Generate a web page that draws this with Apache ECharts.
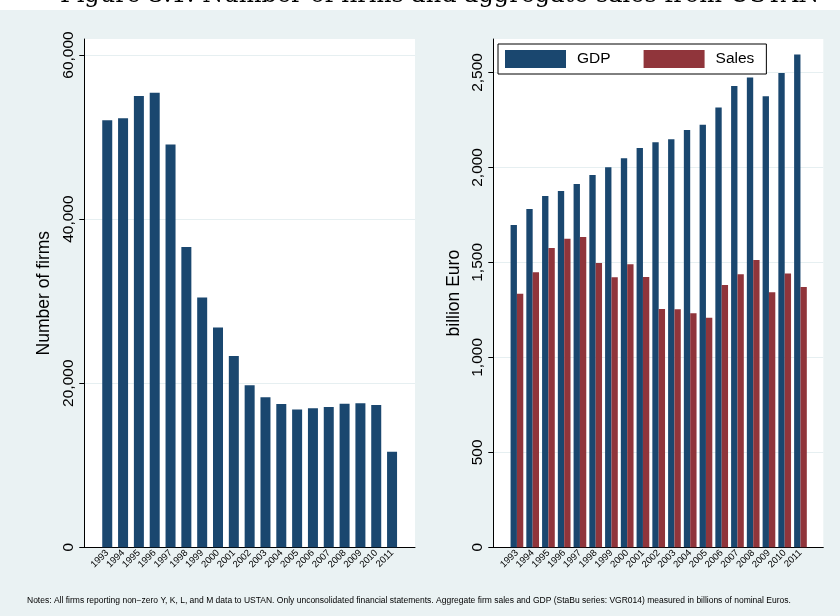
<!DOCTYPE html>
<html><head><meta charset="utf-8">
<script src="https://cdn.jsdelivr.net/npm/echarts@6/dist/echarts.min.js"></script>
<style>
html,body{margin:0;padding:0;background:#fff}
#c{width:840px;height:616px;background:linear-gradient(to bottom,#ffffff 0,#ffffff 10px,#eaf2f3 10px,#eaf2f3 100%);}
</style>
</head><body><div id="c"></div>
<script>
const years = [1993,1994,1995,1996,1997,1998,1999,2000,2001,2002,2003,2004,2005,2006,2007,2008,2009,2010,2011];
const firms = [52050,52300,55000,55400,49100,36600,30450,26800,23300,19750,18300,17450,16800,16950,17100,17500,17550,17350,11650];
const gdp = [1697,1781,1850,1876,1913,1960,2001,2048,2102,2132,2148,2197,2224,2315,2429,2473,2375,2497,2594];
const sales = [1335,1448,1576,1625,1634,1497,1422,1490,1423,1255,1253,1232,1209,1381,1437,1513,1343,1441,1371];
const firmTicks = [0,20000,40000,60000];
const euroTicks = [0,500,1000,1500,2000,2500];
const titleText = 'Figure 3.1: Number of firms and aggregate sales from USTAN';
const notesText = 'Notes: All firms reporting non\u2212zero Y, K, L, and M data to USTAN. Only unconsolidated financial statements. Aggregate firm sales and GDP (StaBu series: VGR014) measured in billions of nominal Euros.';

const FONT = '"Liberation Sans", Arial, Helvetica, sans-serif';
const NAVY = '#1a476f', MAROON = '#90353b', GRIDC = '#e6eff1';
const fmt = v => Number(v).toLocaleString('en-US');
const pair = arr => arr.map((v, i) => [years[i], v]);

function xAxisCfg(idx, min, max) {
  return {
    type: 'value', gridIndex: idx, min: min, max: max,
    axisLine: {show: true, lineStyle: {color: '#000', width: 1}},
    axisTick: {show: false},
    splitLine: {show: false},
    axisLabel: {
      customValues: years, rotate: 45, margin: 4, fontSize: 9.5, color: '#000',
      fontFamily: FONT, formatter: v => String(v)
    }
  };
}
function yAxisCfg(idx, max, interval, ticks, name, gap) {
  return {
    type: 'value', gridIndex: idx, min: 0, max: max, interval: interval,
    name: name, nameLocation: 'middle', nameGap: gap,
    nameTextStyle: {fontSize: 17.5, color: '#000', fontFamily: FONT},
    axisLine: {show: true, lineStyle: {color: '#000', width: 1}},
    axisTick: {show: true, length: 5, lineStyle: {color: '#000'}, customValues: ticks},
    axisLabel: {rotate: 90, margin: 8, fontSize: 15.5, color: '#000', fontFamily: FONT,
      customValues: ticks, formatter: fmt},
    splitLine: {show: true, lineStyle: {color: GRIDC, width: 1}}
  };
}

const chart = echarts.init(document.getElementById('c'), null, {renderer: 'canvas'});
chart.setOption({
  animation: false,
  textStyle: {fontFamily: FONT},
  grid: [
    {left: 84.3, top: 39, width: 330.7, height: 508.3, show: true, backgroundColor: '#fff', borderWidth: 0, containLabel: false},
    {left: 493.3, top: 39, width: 330, height: 508.3, show: true, backgroundColor: '#fff', borderWidth: 0, containLabel: false}
  ],
  xAxis: [xAxisCfg(0, 1991.55, 2012.45), xAxisCfg(1, 1991.5, 2012.45)],
  yAxis: [
    yAxisCfg(0, 61950, 20000, firmTicks, 'Number of firms', 31),
    yAxisCfg(1, 2676, 500, euroTicks, 'billion Euro', 30)
  ],
  legend: {
    data: ['GDP', 'Sales'], left: 498, top: 44, orient: 'horizontal',
    padding: [6, 12, 6, 7], itemWidth: 61, itemHeight: 18, itemGap: 33,
    icon: 'rect', backgroundColor: '#fff', borderColor: '#000', borderWidth: 1, borderRadius: 0,
    textStyle: {fontSize: 15.5, color: '#000', fontFamily: FONT, padding: [0, 0, 0, 6]}
  },
  series: [
    {name: 'Firms', type: 'bar', xAxisIndex: 0, yAxisIndex: 0, barWidth: 10,
      itemStyle: {color: NAVY}, data: pair(firms)},
    {name: 'GDP', type: 'bar', xAxisIndex: 1, yAxisIndex: 1, barWidth: 6.35, barGap: '0%',
      itemStyle: {color: NAVY}, data: pair(gdp)},
    {name: 'Sales', type: 'bar', xAxisIndex: 1, yAxisIndex: 1, barWidth: 6.35, barGap: '0%',
      itemStyle: {color: MAROON}, data: pair(sales)}
  ],
  graphic: [
    {type: 'text', left: 60, top: -16, silent: true,
      style: {text: titleText, font: '24px "DejaVu Serif", "Liberation Serif", serif', fill: '#000'}},
    {type: 'text', left: 27, top: 596, silent: true,
      style: {text: notesText, font: '8.5px ' + FONT, fill: '#000'}}
  ]
});
</script>
</body></html>
